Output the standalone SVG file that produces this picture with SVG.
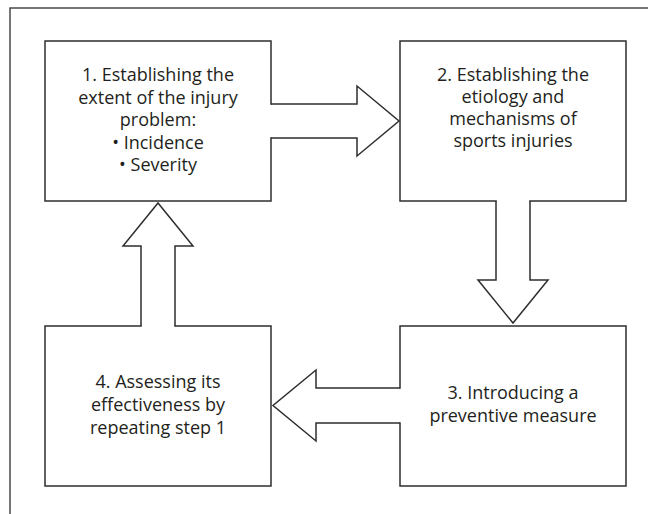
<svg xmlns="http://www.w3.org/2000/svg" width="648" height="514" viewBox="0 0 648 514">
  <style>
    .frame { fill: none; stroke: #4a4a4a; stroke-width: 1.5; }
    .box { fill: #ffffff; stroke: #2e2e2e; stroke-width: 1.5; }
    .cover { fill: #ffffff; stroke: none; }
    .outline { fill: none; stroke: #2e2e2e; stroke-width: 1.5; stroke-linejoin: miter; }
    .label { font-family: "Open Sans", "Noto Sans", "Liberation Sans", sans-serif; font-size: 18px; fill: #231f20; text-anchor: middle; }
  </style>

  <rect x="0" y="0" width="648" height="514" fill="#ffffff"/>

  <!-- outer frame (top and left edges) -->
  <path class="frame" d="M648,8 H10 V514"/>

  <!-- step boxes -->
  <g id="step1">
    <rect class="box" x="45" y="41" width="226" height="160"/>
    <text class="label" x="158" y="81">1. Establishing the</text>
    <text class="label" x="158" y="103.5">extent of the injury</text>
    <text class="label" x="158" y="126">problem:</text>
    <text class="label" x="158" y="148.5">• Incidence</text>
    <text class="label" x="158" y="171">• Severity</text>
  </g>

  <g id="step2">
    <rect class="box" x="400" y="41" width="226" height="160"/>
    <text class="label" x="513" y="81">2. Establishing the</text>
    <text class="label" x="513" y="103">etiology and</text>
    <text class="label" x="513" y="125">mechanisms of</text>
    <text class="label" x="513" y="147">sports injuries</text>
  </g>

  <g id="step3">
    <rect class="box" x="400" y="326" width="226" height="160"/>
    <text class="label" x="513" y="399">3. Introducing a</text>
    <text class="label" x="513" y="422">preventive measure</text>
  </g>

  <g id="step4">
    <rect class="box" x="45" y="326" width="226" height="160"/>
    <text class="label" x="158" y="388">4. Assessing its</text>
    <text class="label" x="158" y="411">effectiveness by</text>
    <text class="label" x="158" y="434">repeating step 1</text>
  </g>

  <!-- block arrows joined to the box outlines -->
  <g id="connectors">
    <!-- 1 -> 2 -->
    <polygon class="cover" points="269.5,104.75 357,104.75 357,86 399,121 357,156 357,137.25 269.5,137.25"/>
    <path class="outline" d="M271,104 H357 V86 L399,121 L357,156 V138 H271"/>
    <!-- 2 -> 3 -->
    <polygon class="cover" points="496.75,199.5 496.75,280 478,280 513,323 548,280 529.25,280 529.25,199.5"/>
    <path class="outline" d="M496,201 V280 H478 L513,323 L548,280 H530 V201"/>
    <!-- 3 -> 4 -->
    <polygon class="cover" points="401.5,388.75 316,388.75 316,370 273,405.5 316,441 316,422.25 401.5,422.25"/>
    <path class="outline" d="M400,388 H316 V370 L273,405.5 L316,441 V423 H400"/>
    <!-- 4 -> 1 -->
    <polygon class="cover" points="141.75,327.5 141.75,246 123,246 158,203 193,246 174.25,246 174.25,327.5"/>
    <path class="outline" d="M141,326 V246 H123 L158,203 L193,246 H175 V326"/>
  </g>
</svg>
